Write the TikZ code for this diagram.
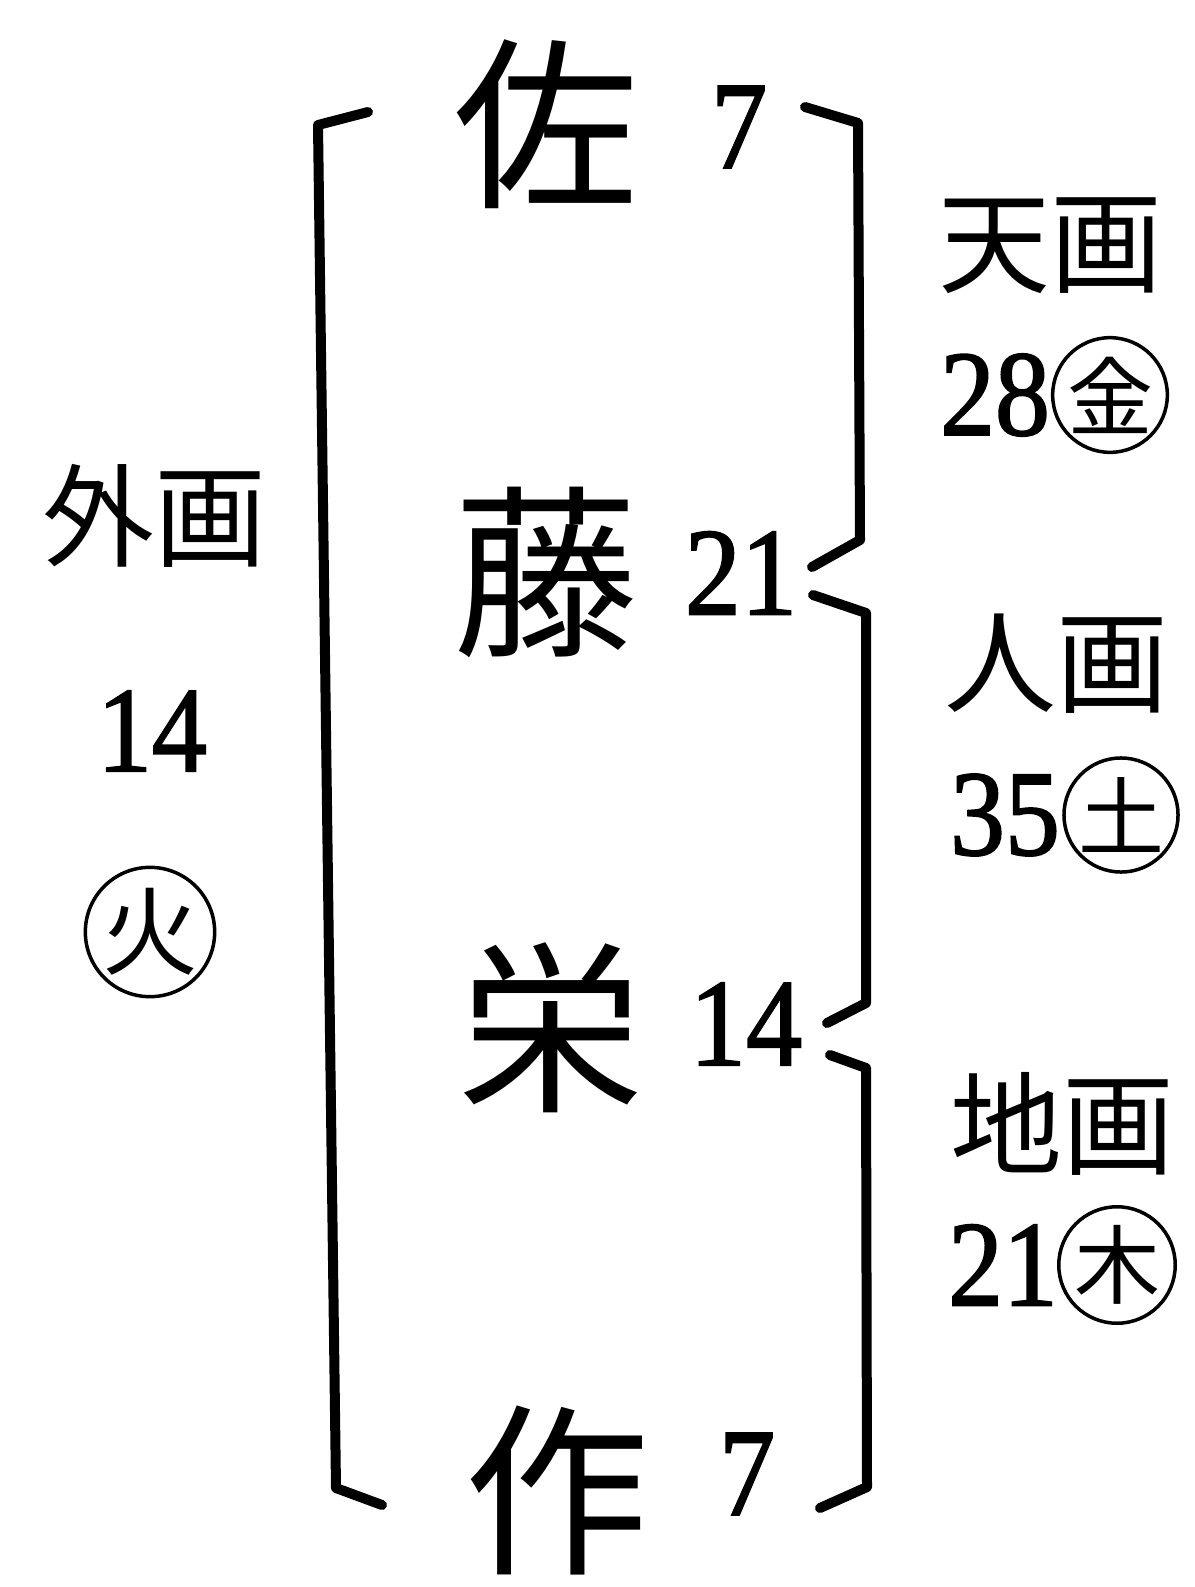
\documentclass[tikz,border=0pt]{standalone}
\usepackage{fontspec}
\newfontfamily\cjk{Noto Sans CJK JP}
\newfontfamily\dig[FakeStretch=0.9,FakeBold=1.5]{Liberation Serif}
\begin{document}
\begin{tikzpicture}[x=1pt,y=-1pt,
  big/.style={font=\cjk\fontsize{185}{185}\selectfont, inner sep=0},
  lab/.style={font=\cjk\fontsize{112}{112}\selectfont, inner sep=0},
  num/.style={font=\dig\fontsize{125}{125}\selectfont, inner sep=0},
  snum/.style={font=\dig\fontsize{122}{122}\selectfont, inner sep=0},
  circ/.style={circle, draw, line width=3.5pt, inner sep=0, minimum size=#1,
    font=\cjk\fontsize{86}{86}\selectfont},
  brk/.style={line width=10pt, line join=round, line cap=round}]
\useasboundingbox[fill=white] (0,0) rectangle (1194,1587);

% main name characters
\node[big] (sa) at (546,124) {佐};
\node[big] (to) at (546,572) {藤};
\node[big] (ei) at (551,1028) {栄};
\node[big] (saku) at (557,1490) {作};

% stroke counts
\node[num] (n1) at (739,127) {7};
\node[num] (n2) at (741,573) {21};
\node[num] (n3) at (746,1024) {14};
\node[num] (n4) at (747,1474) {7};

% left bracket
\coordinate (lt) at (368,112);
\coordinate (lc1) at (318,125);
\coordinate (lc2) at (336,1488);
\coordinate (lb) at (382,1505);
\draw[brk] (lt) -- (lc1) -- (lc2) -- (lb);

% right braces
\coordinate (a1) at (805,107);
\coordinate (a2) at (858,123);
\coordinate (a3) at (860,540);
\coordinate (a4) at (812,567);
\draw[brk] (a1) -- (a2) -- (a3) -- (a4);
\coordinate (b1) at (813,595);
\coordinate (b2) at (866,613);
\coordinate (b3) at (866,1003);
\coordinate (b4) at (827,1023);
\draw[brk] (b1) -- (b2) -- (b3) -- (b4);
\coordinate (c1) at (830,1055);
\coordinate (c2) at (866,1068);
\coordinate (c3) at (867,1487);
\coordinate (c4) at (820,1508);
\draw[brk] (c1) -- (c2) -- (c3) -- (c4);

% right labels
\node[lab] (ten) at (1050,246) {天画};
\node[snum] (tenn) at (995,395) {28};
\node[circ=100] (tenc) at (1110,395) {金};

\node[lab] (jin) at (1056,664) {人画};
\node[snum] (jinn) at (1005,815) {35};
\node[circ=100] (jinc) at (1121,815) {土};

\node[lab] (chi) at (1062,1124) {地画};
\node[snum] (chin) at (1003,1265) {21};
\node[circ=104] (chic) at (1117,1265) {木};

% left label
\node[lab] (gai) at (154,516) {外画};
\node[snum] (gain) at (152,731) {14};
\node[circ=124, font=\cjk\fontsize{96}{96}\selectfont] (gaic) at (150,932) {火};
\end{tikzpicture}
\end{document}
